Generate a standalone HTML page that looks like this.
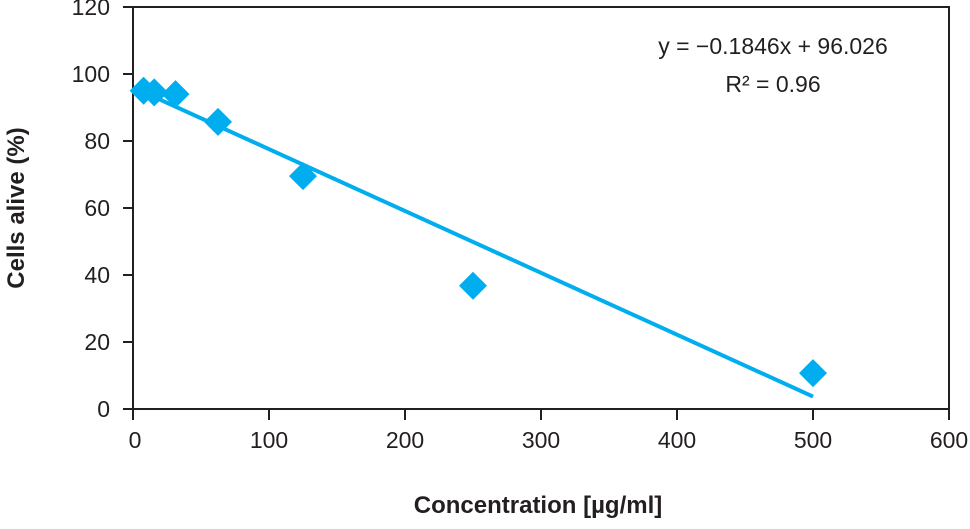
<!DOCTYPE html>
<html><head><meta charset="utf-8"><style>
body{margin:0;background:#fff;}
svg text{font-family:"Liberation Sans",sans-serif;fill:#231f20;}
</style></head><body>
<svg width="970" height="524">
<g id="axes"></g><g id="marks"></g>
<text x="773" y="54" font-size="23" text-anchor="middle">y = −0.1846x + 96.026</text>
<text x="773" y="92" font-size="23" text-anchor="middle">R² = 0.96</text>
<text x="538" y="513" font-size="24" font-weight="bold" text-anchor="middle">Concentration [µg/ml]</text>
<text transform="translate(24,208) rotate(-90)" font-size="24" font-weight="bold" text-anchor="middle">Cells alive (%)</text>
</svg>
<script>
const concentrations=[7.8,15.6,31.25,62.5,125,250,500];
const cellsAlive=[95,94.5,94,85.7,69.5,36.8,10.7];
const xTicks=[0,100,200,300,400,500,600];
const yTicks=[0,20,40,60,80,100,120];
const slope=-0.1846, intercept=96.026;
const X0=133,X1=949,Y0=409,Y1=7;
const sx=v=>X0+(v/600)*(X1-X0);
const sy=v=>Y0-(v/120)*(Y0-Y1);
const NS="http://www.w3.org/2000/svg";
const axes=document.getElementById('axes'),marks=document.getElementById('marks');
function mk(tag,attrs,parent){const e=document.createElementNS(NS,tag);for(const k in attrs)e.setAttribute(k,attrs[k]);parent.appendChild(e);return e;}
let frame=mk('rect',{x:X0,y:Y1,width:X1-X0,height:Y0-Y1,fill:'none',stroke:'#231f20','stroke-width':2},axes);


yTicks.forEach(v=>{
  let t=mk('line',{x1:X0-10,x2:X0,y1:sy(v),y2:sy(v),stroke:'#231f20','stroke-width':2},axes);
  
  
  let l=mk('text',{x:X0-23,y:sy(v)+8,'font-size':23,'text-anchor':'end'},axes);l.textContent=v;
  
  
});
xTicks.forEach(v=>{
  let t=mk('line',{x1:sx(v),x2:sx(v),y1:Y0,y2:Y0+11,stroke:'#231f20','stroke-width':2},axes);
  
  
  let l=mk('text',{x:sx(v)+(v===0?2:0),y:Y0+39,'font-size':23,'text-anchor':'middle'},axes);l.textContent=v;
  
  
});
const xa=concentrations[0],xb=concentrations[concentrations.length-1];
let tl=mk('line',{x1:sx(xa),y1:sy(slope*xa+intercept),x2:sx(xb),y2:sy(slope*xb+intercept),stroke:'#00aeef','stroke-width':4},marks);


concentrations.forEach((c,i)=>{
  const cx=sx(c),cy=sy(cellsAlive[i]),r=14;
  let p=mk('polygon',{points:`${cx},${cy-r} ${cx+r},${cy} ${cx},${cy+r} ${cx-r},${cy}`,fill:'#00aeef'},marks);
  
  
});
</script>
</body></html>
